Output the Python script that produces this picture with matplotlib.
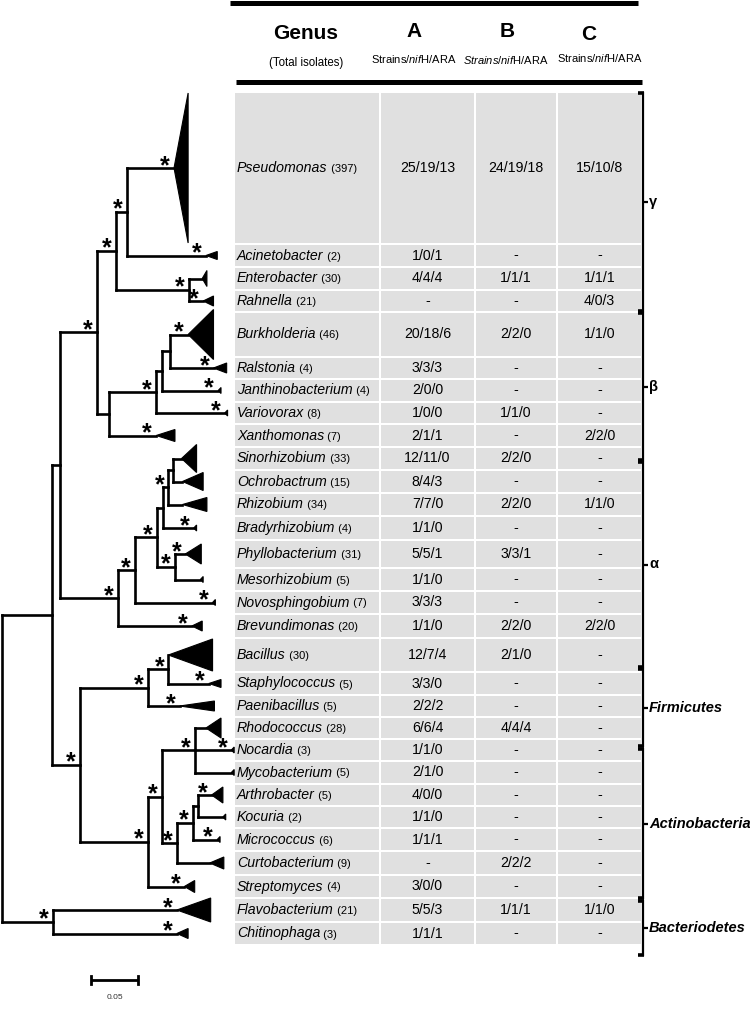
import matplotlib
matplotlib.use("Agg")
import matplotlib.pyplot as plt
from matplotlib.patches import Polygon, Rectangle

plt.rcParams["font.family"] = ["Liberation Sans", "DejaVu Sans"]
plt.rcParams["mathtext.fontset"] = "custom"
plt.rcParams["mathtext.rm"] = "Liberation Sans"
plt.rcParams["mathtext.it"] = "Liberation Sans:italic"

# ---- table data ----
genera = ["Pseudomonas", "Acinetobacter", "Enterobacter", "Rahnella", "Burkholderia",
          "Ralstonia", "Janthinobacterium", "Variovorax", "Xanthomonas", "Sinorhizobium",
          "Ochrobactrum", "Rhizobium", "Bradyrhizobium", "Phyllobacterium", "Mesorhizobium",
          "Novosphingobium", "Brevundimonas", "Bacillus", "Staphylococcus", "Paenibacillus",
          "Rhodococcus", "Nocardia", "Mycobacterium", "Arthrobacter", "Kocuria",
          "Micrococcus", "Curtobacterium", "Streptomyces", "Flavobacterium", "Chitinophaga"]
isolates = [397, 2, 30, 21, 46, 4, 4, 8, 7, 33, 15, 34, 4, 31, 5, 7, 20,
            30, 5, 5, 28, 3, 5, 5, 2, 6, 9, 4, 21, 3]
col_a = ["25/19/13", "1/0/1", "4/4/4", "-", "20/18/6", "3/3/3", "2/0/0", "1/0/0", "2/1/1",
         "12/11/0", "8/4/3", "7/7/0", "1/1/0", "5/5/1", "1/1/0", "3/3/3", "1/1/0",
         "12/7/4", "3/3/0", "2/2/2", "6/6/4", "1/1/0", "2/1/0", "4/0/0", "1/1/0", "1/1/1",
         "-", "3/0/0", "5/5/3", "1/1/1"]
col_b = ["24/19/18", "-", "1/1/1", "-", "2/2/0", "-", "-", "1/1/0", "-",
         "2/2/0", "-", "2/2/0", "-", "3/3/1", "-", "-", "2/2/0",
         "2/1/0", "-", "-", "4/4/4", "-", "-", "-", "-", "-",
         "2/2/2", "-", "1/1/1", "-"]
col_c = ["15/10/8", "-", "1/1/1", "4/0/3", "1/1/0", "-", "-", "-", "2/2/0",
         "-", "-", "1/1/0", "-", "-", "-", "-", "2/2/0",
         "-", "-", "-", "-", "-", "-", "-", "-", "-",
         "-", "-", "1/1/0", "-"]
group_names = ["γ", "β", "α", "Firmicutes", "Actinobacteria", "Bacteriodetes"]


# ---- tree (branch lengths in substitutions/site, star = supported node) ----
def tip(name, bl, star=True):
    return {"name": name, "bl": bl, "star": star}


def clade(kids, bl, star=True):
    return {"kids": kids, "bl": bl, "star": star}


gamma = clade([
    clade([tip("Pseudomonas", 0.050), tip("Acinetobacter", 0.084)], 0.012),
    clade([tip("Enterobacter", 0.014, False), tip("Rahnella", 0.015)], 0.078),
], 0.020)
beta = clade([
    clade([
        clade([
            clade([tip("Burkholderia", 0.019), tip("Ralstonia", 0.046)], 0.009, False),
            tip("Janthinobacterium", 0.060),
        ], 0.006, False),
        tip("Variovorax", 0.073),
    ], 0.050),
    tip("Xanthomonas", 0.050),
], 0.013, False)
alpha = clade([
    clade([
        clade([
            clade([
                clade([
                    clade([tip("Sinorhizobium", 0.009, False), tip("Ochrobactrum", 0.010, False)], 0.005, False),
                    tip("Rhizobium", 0.015, False),
                ], 0.006),
                tip("Bradyrhizobium", 0.033),
            ], 0.006, False),
            clade([tip("Phyllobacterium", 0.011), tip("Mesorhizobium", 0.027, False)], 0.019),
        ], 0.024),
        tip("Novosphingobium", 0.083),
    ], 0.018),
    tip("Brevundimonas", 0.079),
], 0.061)
firmicutes = clade([
    clade([tip("Bacillus", 0.0, False), tip("Staphylococcus", 0.043)], 0.022),
    tip("Paenibacillus", 0.034),
], 0.072)
actino = clade([
    clade([
        clade([tip("Rhodococcus", 0.012, False), tip("Nocardia", 0.039),
               tip("Mycobacterium", 0.039, False)], 0.035),
        clade([
            clade([
                clade([tip("Arthrobacter", 0.014), tip("Kocuria", 0.026, False)], 0.006, False),
                tip("Micrococcus", 0.026),
            ], 0.017),
            tip("Curtobacterium", 0.035, False),
        ], 0.016),
    ], 0.015),
    tip("Streptomyces", 0.039),
], 0.072)
bacteroidetes = clade([tip("Flavobacterium", 0.132), tip("Chitinophaga", 0.132)], 0.054)

tree = clade([
    clade([
        clade([clade([gamma, beta], 0.039), alpha], 0.009, False),
        clade([firmicutes, actino], 0.030),
    ], 0.053, False),
    bacteroidetes,
], 0.0, False)

# collapsed clades: (triangle depth in subst. units, half height in px)
tri = {"Pseudomonas": (0.015, 75), "Acinetobacter": (0.012, 4), "Enterobacter": (0.005, 8),
       "Rahnella": (0.011, 5), "Burkholderia": (0.027, 25), "Ralstonia": (0.014, 5),
       "Janthinobacterium": (0.003, 3), "Variovorax": (0.003, 3), "Xanthomonas": (0.020, 6),
       "Sinorhizobium": (0.016, 14), "Ochrobactrum": (0.022, 9), "Rhizobium": (0.026, 7),
       "Bradyrhizobium": (0.003, 3), "Phyllobacterium": (0.017, 10), "Mesorhizobium": (0.003, 3),
       "Novosphingobium": (0.003, 3), "Brevundimonas": (0.011, 5), "Bacillus": (0.047, 16),
       "Staphylococcus": (0.013, 4), "Paenibacillus": (0.037, 5), "Rhodococcus": (0.016, 10),
       "Nocardia": (0.003, 3), "Mycobacterium": (0.003, 3), "Arthrobacter": (0.012, 8),
       "Kocuria": (0.003, 3), "Micrococcus": (0.003, 3), "Curtobacterium": (0.015, 6),
       "Streptomyces": (0.011, 6), "Flavobacterium": (0.036, 12), "Chitinophaga": (0.012, 5)}

# row heights in px (including 2 px white gap)
row_h = [152, 23, 23, 22, 45, 22, 23, 22, 23, 23, 23, 23, 24, 28, 23, 23, 24,
         34, 23, 22, 22, 22, 23, 22, 22, 23, 24, 23, 24, 23]
# bracket spans in px (drawn independently of the rows, as in the original)
bracket_span = [(93, 311), (313, 460), (462, 667), (669, 746), (749, 898), (901, 955)]

# ---- figure ----
W, H = 750, 1014
PX = 940.0  # px per substitution unit
fig = plt.figure(figsize=(W / 100, H / 100), dpi=100)
ax = fig.add_axes([0, 0, 1, 1])
ax.set_xlim(0, W)
ax.set_ylim(H, 0)
ax.axis("off")
tax = fig.add_axes([0, 0, 235 / W, 1])
tax.set_xlim(-2 / PX, 233 / PX)
tax.set_ylim(H, 0)
tax.axis("off")
tax.patch.set_alpha(0)
renderer = fig.canvas.get_renderer()


def chain(axis, x, y, parts):
    cx = x
    inv = axis.transData.inverted()
    for s, kw in parts:
        t = axis.text(cx, y, s, va="baseline", ha="left", **kw)
        bb = t.get_window_extent(renderer)
        cx = inv.transform((bb.x1, bb.y0))[0]


# table rows
tops = [93]
for h in row_h[:-1]:
    tops.append(tops[-1] + h)
y_c = [t + (h - 2) / 2 for t, h in zip(tops, row_h)]
cols = [(235, 379), (381, 474), (476, 556), (558, 641)]

for i, g in enumerate(genera):
    for x0, x1 in cols:
        ax.add_patch(Rectangle((x0, tops[i]), x1 - x0, row_h[i] - 2, color="#e0e0e0", lw=0))
    chain(ax, 237, y_c[i] + 4, [(g, dict(style="italic", size=10.2)),
                                (" (%d)" % isolates[i], dict(size=8))])
    for (x0, x1), v in zip(cols[1:], (col_a[i], col_b[i], col_c[i])):
        ax.text((x0 + x1) / 2, y_c[i] + 4, v, ha="center", va="baseline", size=10.2)

# header
ax.plot([230, 638], [2.5, 2.5], color="k", lw=3.6, solid_capstyle="butt")
ax.plot([236, 642], [81.5, 81.5], color="k", lw=3.6, solid_capstyle="butt")
ax.text(306, 39, "Genus", ha="center", va="baseline", size=15, weight="bold")
ax.text(306, 66, "(Total isolates)", ha="center", va="baseline", size=8.3)
for lab, cx, cy in (("A", 414, 37), ("B", 507, 37), ("C", 589, 40)):
    ax.text(cx, cy, lab, ha="center", va="baseline", size=15, weight="bold")
ax.text(414, 63, r"Strains/$\mathit{nif}$H/ARA", ha="center", va="baseline", size=8)
ax.text(506, 64, r"$\mathit{Strains/nif}$H/ARA", ha="center", va="baseline", size=8)
ax.text(600, 62, r"Strains/$\mathit{nif}$H/ARA", ha="center", va="baseline", size=8)

# group brackets
for name, (y0, y1) in zip(group_names, bracket_span):
    ax.plot([643, 643], [y0, y1], color="k", lw=1.6)
    ax.plot([638, 643.8], [y0, y0], color="k", lw=2.6, solid_capstyle="butt")
    ax.plot([638, 643.8], [y1, y1], color="k", lw=2.6, solid_capstyle="butt")
    ym = (y0 + y1) / 2
    ax.plot([643, 648], [ym, ym], color="k", lw=1.6, solid_capstyle="butt")
    style = "normal" if len(name) == 1 else "italic"
    ax.text(649, ym, name, ha="left", va="center", size=10.5, weight="bold", style=style)


# tree layout and drawing
def layout(n, x0):
    n["x"] = x0 + n["bl"]
    if "kids" in n:
        for k in n["kids"]:
            layout(k, n["x"])
        n["y"] = (n["kids"][0]["y"] + n["kids"][-1]["y"]) / 2
    else:
        n["y"] = y_c[genera.index(n["name"])]


def draw(n, px):
    lw = 1.9
    if n["x"] > px:
        tax.plot([px, n["x"]], [n["y"], n["y"]], color="k", lw=lw, solid_capstyle="projecting")
    if n["star"]:
        tax.text(n["x"] - 9 / PX, n["y"] + 5, "*", ha="center", va="baseline", size=18,
                 weight="bold")
    if "kids" in n:
        tax.plot([n["x"], n["x"]], [n["kids"][0]["y"], n["kids"][-1]["y"]], color="k",
                 lw=lw, solid_capstyle="projecting")
        for k in n["kids"]:
            draw(k, n["x"])
    else:
        d, hh = tri[n["name"]]
        x, y = n["x"], n["y"]
        tax.add_patch(Polygon([(x, y), (x + d, y - hh), (x + d, y + hh)], closed=True,
                              facecolor="k", edgecolor="k", lw=0.8))


layout(tree, 0.0)
draw(tree, 0.0)

# scale bar
sb0, sbl = 0.0947, 0.05
tax.plot([sb0, sb0 + sbl], [980, 980], color="k", lw=2, solid_capstyle="butt")
tax.plot([sb0, sb0], [976, 984], color="k", lw=2)
tax.plot([sb0 + sbl, sb0 + sbl], [976, 984], color="k", lw=2)
tax.text(sb0 + sbl / 2, 999, "0.05", ha="center", va="baseline", size=6, color="#333333")

fig.savefig("out.png", dpi=100)
